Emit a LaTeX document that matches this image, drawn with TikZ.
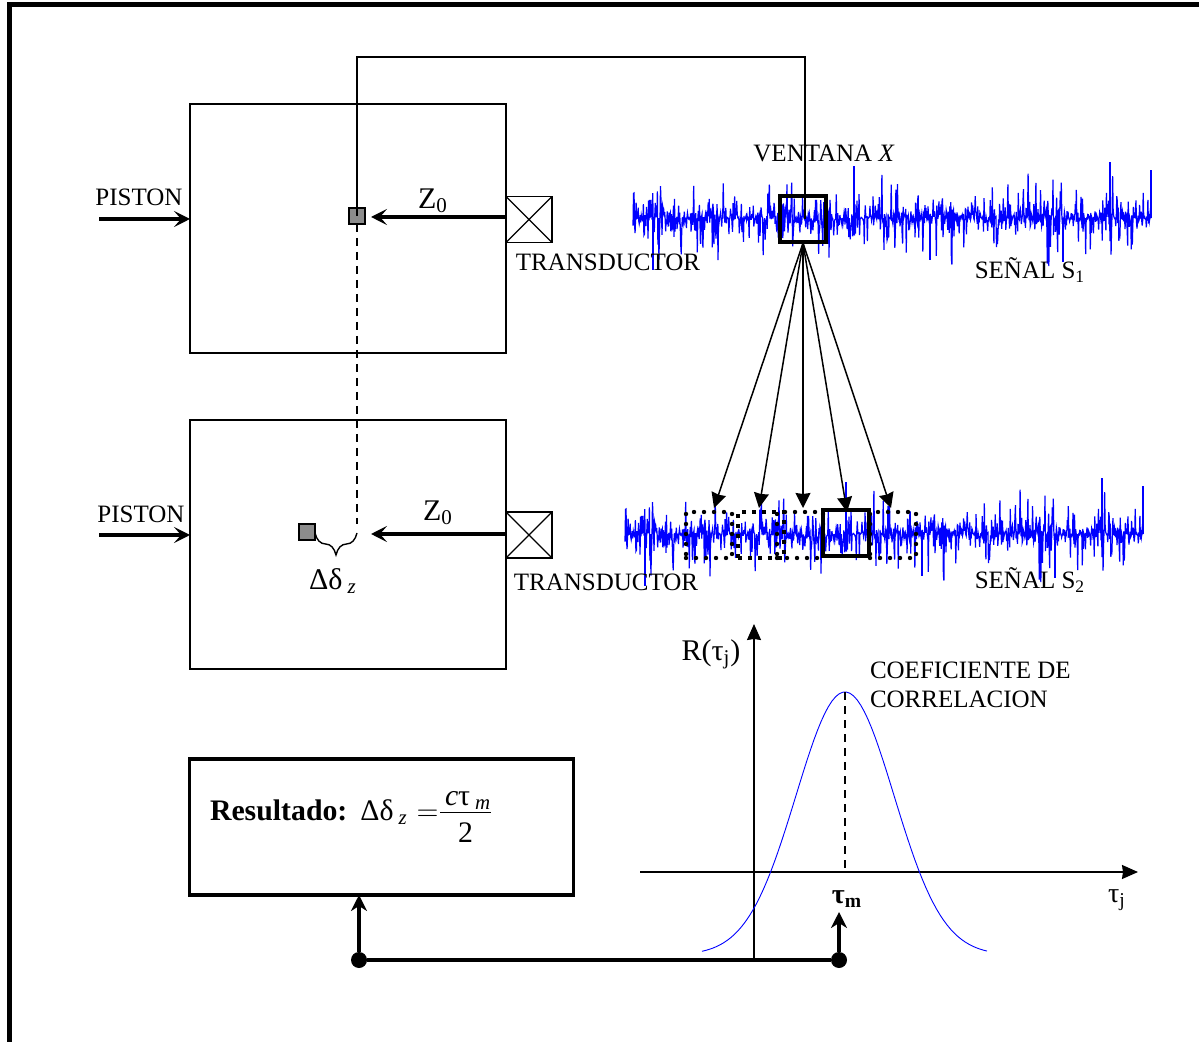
\documentclass[tikz,border=0pt]{standalone}
\usepackage{fontspec}
\setmainfont{Liberation Serif}
\usepackage{amsmath}
\usetikzlibrary{arrows.meta,positioning,decorations.pathreplacing,calc}

% noise trace, same seed gives the same trace for both signals
\newcommand{\signaltrace}[2]{
    \pgfmathsetseed{4217}
    \draw[trace] plot[domain=0:518, samples=1000] ({#1+\x}, {#2-62*rand*rnd*rnd});
    \foreach \dx/\dy in {221/-52, 477/-56, 518/-48, 20/52, 297/42, 430/44}
        \draw[trace] (#1+\dx, #2) -- ++(0, \dy);
}

\begin{document}
\begin{tikzpicture}[
    x=0.5pt, y=-0.5pt,
    font=\fontsize{12.5}{14.5}\selectfont,
    cylbox/.style={rectangle, draw, line width=1pt, minimum width=158pt, minimum height=124.5pt, inner sep=0pt, outer sep=0pt},
    transd/.style={rectangle, draw, line width=0.75pt, minimum size=23pt, inner sep=0pt, outer sep=0pt},
    marker/.style={rectangle, draw, line width=0.6pt, fill=black!45, minimum size=8pt, inner sep=0pt, outer sep=0pt},
    window/.style={rectangle, draw, line width=2.2pt, minimum width=23pt, minimum height=23pt, inner sep=0pt, outer sep=0pt},
    dotwin/.style={rectangle, draw, line width=2.2pt, dash pattern=on 0pt off 5pt, line cap=round, minimum width=23pt, minimum height=23pt, inner sep=0pt, outer sep=0pt},
    sqwin/.style={rectangle, draw, line width=2.2pt, dash pattern=on 2.2pt off 2.8pt, minimum width=23pt, minimum height=23pt, inner sep=0pt, outer sep=0pt},
    joint/.style={circle, fill=black, minimum size=8pt, inner sep=0pt, outer sep=0pt},
    result/.style={rectangle, draw, line width=1.8pt, minimum width=192pt, minimum height=68pt, inner sep=0pt, outer sep=0pt},
    tag/.style={inner sep=0pt, outer sep=0pt},
    bigtag/.style={tag, font=\fontsize{15}{17}\selectfont},
    thickarrow/.style={line width=1.8pt, -{Stealth[length=8pt, width=8pt, inset=3.5pt]}},
    busarrow/.style={line width=2.2pt, -{Stealth[length=8pt, width=8pt, inset=2.5pt]}},
    fanarrow/.style={line width=0.75pt, -{Stealth[length=7.5pt, width=7.5pt, inset=0.5pt]}},
    axis/.style={line width=0.75pt, -{Stealth[length=8pt, width=7pt, inset=0.5pt]}},
    trace/.style={blue, line width=0.6pt},
    bell/.style={blue, line width=0.45pt}
]
    \useasboundingbox (0,0) rectangle (1199,1042);

    % frame
    \coordinate (frameA) at (9,1042);
    \coordinate (frameB) at (9,5);
    \coordinate (frameC) at (1199,5);
    \draw[line width=2.5pt] (frameA) -- (frameB) -- (frameC);

    % signals
    \signaltrace{633}{218}
    \signaltrace{625}{534}

    % cylinders
    \node[cylbox] (cylA) at (348,228.5) {};
    \node[cylbox, below=33.5pt of cylA] (cylB) {};
    \node[transd] (trA) at (529,219.5) {};
    \node[transd] (trB) at (529,535) {};
    \draw[line width=0.6pt] (trA.north west) -- (trA.south east) (trA.south west) -- (trA.north east);
    \draw[line width=0.6pt] (trB.north west) -- (trB.south east) (trB.south west) -- (trB.north east);
    \node[marker] (mkA) at (357,216) {};
    \node[marker] (mkB) at (307,532) {};

    % windows
    \node[window] (winA) at (803,219) {};
    \node[dotwin] (winC) at (709,535) {};
    \node[sqwin] (winD) at (761,535) {};
    \node[dotwin] (winE) at (800,535) {};
    \node[dotwin] (winG) at (893,535) {};
    \node[window] (winF) at (846,533) {};

    % wire to the window
    \coordinate (wireA) at (357,57);
    \coordinate (wireB) at (805,57);
    \coordinate (wireC) at (805,219);
    \draw[line width=0.6pt] (mkA.center) -- (wireA) -- (wireB) -- (wireC);
    \coordinate (dashEnd) at (357,524);
    \draw[line width=0.7pt, dashed, dash pattern=on 4pt off 3pt] (mkA.south) -- (dashEnd);
    \draw[line width=0.7pt, decorate, decoration={brace, mirror, amplitude=11pt}] (mkB.east |- 0,533) -- (dashEnd |- 0,533);

    % piston and Z0 arrows
    \coordinate (pisA) at (99,219);
    \coordinate (pisB) at (99,535);
    \coordinate (zA) at (371,217);
    \coordinate (zB) at (371,534);
    \draw[thickarrow] (pisA) -- (pisA -| cylA.west);
    \draw[thickarrow] (pisB) -- (pisB -| cylB.west);
    \draw[thickarrow] (zA -| trA.west) -- (zA);
    \draw[thickarrow] (zB -| trB.west) -- (zB);

    % fan of arrows
    \coordinate (fanA) at (803,243);
    \foreach \name/\tx/\ty in {fanC/714/508, fanD/759/508, fanE/803/508, fanF/847/512, fanG/891/508}{
        \coordinate (\name) at (\tx,\ty);
        \draw[fanarrow] (fanA) -- (\name);
    }

    % correlation plot
    \coordinate (axisO) at (754,960);
    \coordinate (axisY) at (754,624);
    \coordinate (axisL) at (640,872);
    \coordinate (axisX) at (1138,872);
    \draw[axis] (axisO) -- (axisY);
    \draw[axis] (axisL) -- (axisX);
    \draw[bell] plot[domain=702:987, samples=80] (\x, {955-263*exp(-0.5*((\x-845)/49)^2)});
    \coordinate (peak) at (845,692);
    \draw[line width=0.8pt, dashed, dash pattern=on 4pt off 3pt] (peak) -- (peak |- axisX);

    % result box and bus
    \node[result] (res) at (381.5,827) {};
    \node[joint] (jtA) at (359,960) {};
    \node[joint] (jtB) at (839,960) {};
    \coordinate (taum) at (839,912);
    \draw[line width=2.2pt] (jtA) -- (jtB);
    \draw[busarrow] (jtA) -- (jtA |- res.south);
    \draw[busarrow] (jtB) -- (taum);

    % labels
    \node[tag] (lpisA) at (139,197) {PISTON};
    \node[tag] (lpisB) at (141,514) {PISTON};
    \node[bigtag] (lzA) at (433,201) {Z\textsubscript{0}};
    \node[bigtag] (lzB) at (438,513) {Z\textsubscript{0}};
    \node[tag] (ltrA) at (608,262) {TRANSDUCTOR};
    \node[tag] (ltrB) at (606,582) {TRANSDUCTOR};
    \node[tag] (lwin) at (824,153) {VENTANA \textit{X}};
    \node[tag] (lsA) at (1030,270) {SEÑAL S\textsubscript{1}};
    \node[tag] (lsB) at (1030,580) {SEÑAL S\textsubscript{2}};
    \node[bigtag] (ldz) at (333,581) {Δδ\,\textsubscript{\textit{z}}};
    \node[bigtag] (lR) at (711,654) {R(τ\textsubscript{j})};
    \node[tag, align=left, anchor=west] (lcoef) at (870,685) {COEFICIENTE DE\\CORRELACION};
    \node[bigtag, font=\fontsize{14}{16}\bfseries\selectfont] (ltaum) at (847,899) {τ\textsubscript{m}};
    \node[bigtag, font=\fontsize{14}{16}\selectfont] (ltauj) at (1117,900) {τ\textsubscript{j}};
    \node[tag, anchor=base west] (lres) at (210,820) {\fontsize{14.9}{17}\selectfont\textbf{Resultado:}\hspace{6.5pt}Δδ\,\textsubscript{\textit{z}}\hspace{4.5pt}$=$\hspace{-0.5pt}$\frac{\mbox{\rule[-3pt]{0pt}{3pt}\,\textit{c}τ\,\textsubscript{\textit{m}}}}{\mbox{\rule{0pt}{14pt}2}}$};
\end{tikzpicture}
\end{document}
